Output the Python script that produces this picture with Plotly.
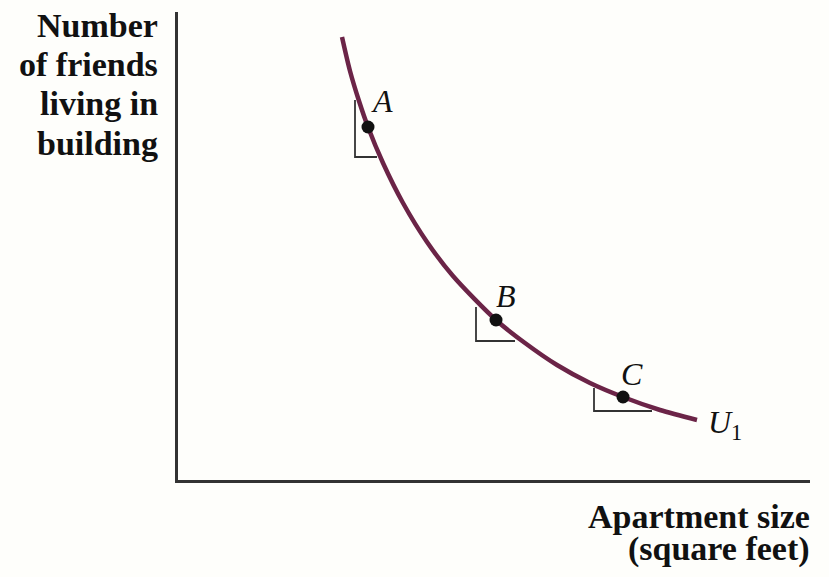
import plotly.graph_objects as go

# Indifference curve U1 (apartment size vs. friends in building)
curve_x = [164, 172, 181, 190, 205, 225, 249, 275, 318, 347, 379, 412, 445, 482, 519]
curve_y = [443, 409, 379, 353, 317, 277, 238, 204, 160, 137, 115, 97, 83, 70, 60]

# Bundles on the curve
pt_labels = ["A", "B", "C"]
pt_x = [190, 318, 445]
pt_y = [353, 160, 83]
lbl_x = [204, 328, 454]
lbl_y = [379, 184, 106]

# Slope triangles: corner, top of the rise, end of the run
tri_corner_x = [177, 298, 416]
tri_corner_y = [323, 139, 69]
tri_top_y = [380, 173, 92]
tri_right_x = [199, 337, 474]

y_title_lines = ["Number", "of friends", "living in", "building"]
x_title_lines = ["Apartment size", "(square feet)"]

AX = "#333333"
CURVE = "#6B2447"
SERIF = "Liberation Serif, Times New Roman, serif"

# Plot area in pixels
L, R, T, B = 178, 19, 12, 97
W, H = 829, 577
PW, PH = W - L - R, H - T - B


def paper_x(px):
    return (px - L) / PW


def paper_y(py):
    return (H - B - py) / PH


fig = go.Figure()

for cx, cy, ty, rx in zip(tri_corner_x, tri_corner_y, tri_top_y, tri_right_x):
    fig.add_trace(go.Scatter(
        x=[cx, cx, rx], y=[ty, cy, cy], mode="lines",
        line=dict(color=AX, width=1.8), hoverinfo="skip", showlegend=False))

fig.add_trace(go.Scatter(
    x=curve_x, y=curve_y, mode="lines",
    line=dict(color=CURVE, width=4.5, shape="spline", smoothing=0.8),
    showlegend=False, name="U1"))

fig.add_trace(go.Scatter(
    x=pt_x, y=pt_y, mode="markers",
    marker=dict(color="#111111", size=13), showlegend=False))

annotations = []
for t, x, y in zip(pt_labels, lbl_x, lbl_y):
    annotations.append(dict(
        x=x, y=y, xref="x", yref="y", text=f"<i>{t}</i>", showarrow=False,
        font=dict(family=SERIF, size=32, color="#111111"),
        xanchor="center", yanchor="middle"))

annotations.append(dict(
    x=528, y=56, xref="x", yref="y", text="<i>U</i><sub>1</sub>", showarrow=False,
    font=dict(family=SERIF, size=32, color="#111111"),
    xanchor="left", yanchor="middle"))

# Axis titles, one annotation per line (paper coordinates)
y_centres_px = [25.5, 64.5, 103.5, 143.5]
for line, yc in zip(y_title_lines, y_centres_px):
    annotations.append(dict(
        x=paper_x(160), y=paper_y(yc), xref="paper", yref="paper",
        text=f"<b>{line}</b>", showarrow=False,
        font=dict(family=SERIF, size=34, color="#111111"),
        xanchor="right", yanchor="middle"))

x_centres_px = [516.5, 548.5]
for line, yc in zip(x_title_lines, x_centres_px):
    annotations.append(dict(
        x=paper_x(812), y=paper_y(yc), xref="paper", yref="paper",
        text=f"<b>{line}</b>", showarrow=False,
        font=dict(family=SERIF, size=34, color="#111111"),
        xanchor="right", yanchor="middle"))

fig.update_layout(
    width=W, height=H,
    margin=dict(l=L, r=R, t=T, b=B),
    paper_bgcolor="#FEFEFB", plot_bgcolor="#FEFEFB",
    annotations=annotations,
    xaxis=dict(range=[0, 632], showgrid=False, zeroline=False, showticklabels=False,
               ticks="", showline=True, linecolor=AX, linewidth=3, fixedrange=True),
    yaxis=dict(range=[0, 468], showgrid=False, zeroline=False, showticklabels=False,
               ticks="", showline=True, linecolor=AX, linewidth=3, fixedrange=True),
)

fig.write_html("out.html")
